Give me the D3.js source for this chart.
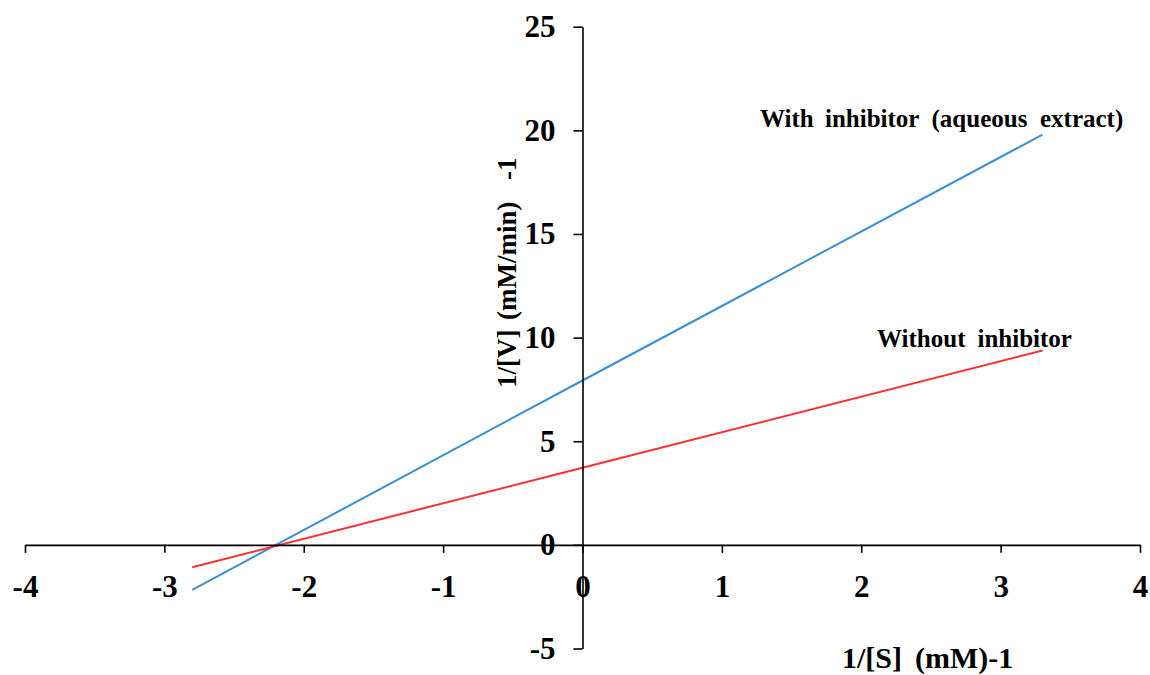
<!DOCTYPE html>
<html>
<head>
<meta charset="utf-8">
<script src="https://cdn.jsdelivr.net/npm/d3@7"></script>
<style>
  html, body { margin: 0; padding: 0; background: #fff; }
  svg { display: block; }
  text { font-family: "Liberation Serif", "Times New Roman", serif; font-weight: bold; fill: #000; }
</style>
</head>
<body>
<svg id="chart" width="1150" height="675"></svg>
<script>
// Data
const xValues = [-2.8, 0, 3.3];
const withInhibitor = [-2.17, 7.93, 19.79];
const withoutInhibitor = [-1.08, 3.72, 9.38];
const xTicks = [-4, -3, -2, -1, 0, 1, 2, 3, 4];
const yTicks = [-5, 0, 5, 10, 15, 20, 25];
const seriesNames = ["With inhibitor (aqueous extract)", "Without inhibitor"];
const xTitle = "1/[S] (mM)-1";
const yTitle = "1/[V] (mM/min) -1";

const svg = d3.select("#chart");
const x = d3.scaleLinear().domain([-4, 4]).range([25, 1140]);
const y = d3.scaleLinear().domain([-5, 25]).range([648.5, 26.7]);

// A label whose words sit at the offsets seen in the reference (wide word gaps)
function spacedLabel(transform, label, offsets, size) {
  const t = svg.append("text")
    .attr("transform", transform)
    .attr("font-size", size);
  label.split(" ").forEach((w, i) => {
    t.append("tspan").attr("x", offsets[i]).attr("y", 0).text(w);
  });
  return t;
}

// Lines
const line = d3.line().x(d => x(d[0])).y(d => y(d[1]));
svg.append("path")
  .datum(xValues.map((v, i) => [v, withInhibitor[i]]))
  .attr("d", line).attr("fill", "none")
  .attr("stroke", "#3a8fd5").attr("stroke-width", 2);
svg.append("path")
  .datum(xValues.map((v, i) => [v, withoutInhibitor[i]]))
  .attr("d", line).attr("fill", "none")
  .attr("stroke", "#ff3030").attr("stroke-width", 2);

// X axis
const gx = svg.append("g")
  .attr("transform", `translate(0,${y(0)})`)
  .call(d3.axisBottom(x).tickValues(xTicks).tickSize(8).tickSizeOuter(0).tickPadding(22).tickFormat(d3.format("d")));
// Y axis
const gy = svg.append("g")
  .attr("transform", `translate(${x(0)},0)`)
  .call(d3.axisLeft(y).tickValues(yTicks).tickSize(9).tickSizeOuter(0).tickPadding(18).tickFormat(d3.format("d")));

[gx, gy].forEach(g => {
  g.select(".domain").attr("stroke", "#000").attr("stroke-width", 1.6);
  g.selectAll(".tick line").attr("stroke", "#000").attr("stroke-width", 1.6);
  g.selectAll(".tick text")
    .attr("font-family", '"Liberation Serif", "Times New Roman", serif')
    .attr("font-weight", "bold")
    .attr("font-size", 31)
    .attr("fill", "#000");
});
gx.selectAll(".tick text").text(d => d3.format("d")(d).replace("\u2212", "-"));
gy.selectAll(".tick text").text(d => d3.format("d")(d).replace("\u2212", "-"));

// Series labels
spacedLabel("translate(760,127)", seriesNames[0], [0, 65, 171.5, 280], 25);
spacedLabel("translate(877,347)", seriesNames[1], [0, 100.5], 25);

// Axis titles
spacedLabel("translate(842,668)", xTitle, [0, 73], 30);
spacedLabel("translate(516,388) rotate(-90)", yTitle, [0, 68, 208], 27);
</script>
</body>
</html>
